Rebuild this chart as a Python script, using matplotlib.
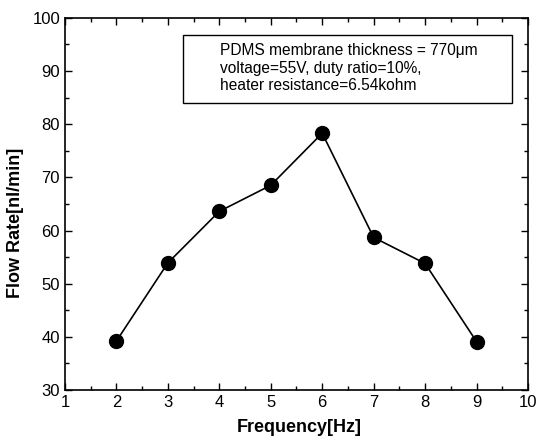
import matplotlib
matplotlib.use("Agg")
import matplotlib.pyplot as plt
from matplotlib.ticker import MultipleLocator
from matplotlib.patches import Rectangle

frequency = [2, 3, 4, 5, 6, 7, 8, 9]
flow_rate = [39.2, 53.9, 63.6, 68.5, 78.3, 58.7, 53.8, 39.1]
x_ticks = [1, 2, 3, 4, 5, 6, 7, 8, 9, 10]
y_ticks = [30, 40, 50, 60, 70, 80, 90, 100]
annotation = ["PDMS membrane thickness = 770\u03bcm",
              "voltage=55V, duty ratio=10%,",
              "heater resistance=6.54kohm"]

fam = ['Liberation Sans', 'DejaVu Sans']
plt.rcParams['font.family'] = fam

fig = plt.figure(figsize=(5.41, 4.42), dpi=100)
ax = fig.add_axes([0.120, 0.1176, 0.856, 0.842])
ax.plot(frequency, flow_rate, color='black', lw=1.2, marker='o',
        markersize=10, markerfacecolor='black', markeredgecolor='black')
ax.set_xlim(1, 10)
ax.set_ylim(30, 100)
ax.set_xticks(x_ticks)
ax.set_yticks(y_ticks)
ax.xaxis.set_minor_locator(MultipleLocator(0.5))
ax.yaxis.set_minor_locator(MultipleLocator(5))
ax.tick_params(which='both', direction='in', top=True, right=True, width=1.0)
ax.tick_params(which='major', length=5, labelsize=12)
ax.tick_params(which='minor', length=3)
for s in ax.spines.values():
    s.set_linewidth(1.2)

ax.set_xlabel('Frequency[Hz]', fontsize=13, fontweight='bold')
ax.xaxis.set_label_coords(0.5, -0.1, transform=ax.transAxes)
ax.xaxis.label.set_va('center')
ax.xaxis.label.set_position((0.5, 0))
fig.texts.clear()
ax.set_ylabel('Flow Rate[nl/min]', fontsize=13, fontweight='bold')
# place labels in figure pixel coordinates
ax.xaxis.set_label_coords(299 / 541, 1 - 428 / 442, transform=fig.transFigure)
ax.yaxis.set_label_coords(16 / 541, 1 - 223 / 442, transform=fig.transFigure)
ax.xaxis.label.set_va('center')
ax.yaxis.label.set_va('center')

# annotation box
box = Rectangle((183 / 541, 1 - 103 / 442), (512 - 183) / 541, (103 - 35) / 442,
                transform=fig.transFigure, fill=False, lw=1.0, edgecolor='black')
fig.patches.append(box)
ys = [51, 68, 86]
for t, y in zip(annotation, ys):
    fig.text(220 / 541, 1 - y / 442, t, fontsize=11.2,
             va='center', ha='left')

fig.savefig('out.png', dpi=100)
